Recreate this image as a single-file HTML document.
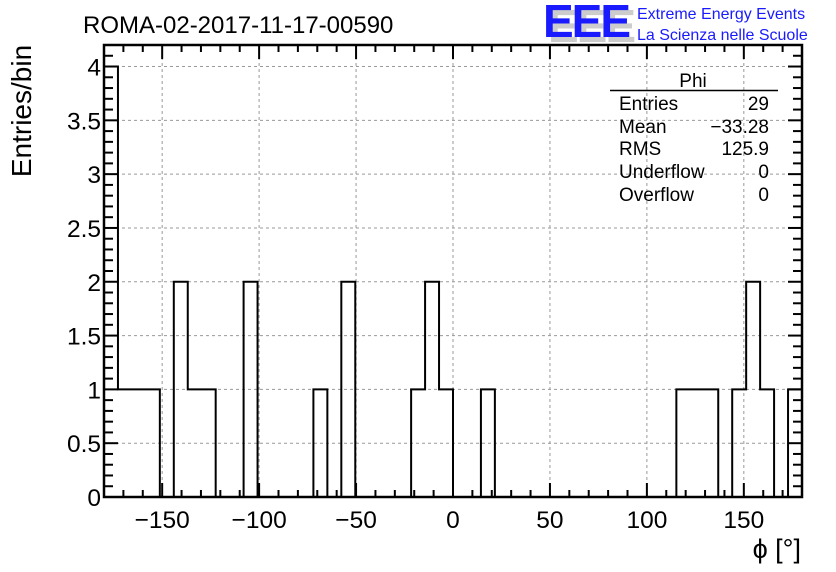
<!DOCTYPE html>
<html><head><meta charset="utf-8"><style>
body{margin:0;background:#fff;}
svg{display:block;font-family:"Liberation Sans",Arial,sans-serif;}
</style></head><body>
<svg id="c" width="836" height="572" viewBox="0 0 836 572">
<rect width="836" height="572" fill="#fff"/>
<g id="grid"></g>
<g id="hist"></g>
<g id="axes"></g>
<text x="83" y="33" font-size="24">ROMA-02-2017-11-17-00590</text>
<g>
<text x="548" y="42" font-size="46" font-weight="bold" fill="#ccc" letter-spacing="-2">EEE</text>
<text x="543" y="37" font-size="46" font-weight="bold" fill="#1a1aff" letter-spacing="-2">EEE</text>
<text x="637" y="19" font-size="16" fill="#1a1aff">Extreme Energy Events</text>
<text x="637" y="40" font-size="16" fill="#1a1aff">La Scienza nelle Scuole</text>
</g>
<g font-size="19">
<text x="693" y="87" text-anchor="middle">Phi</text>
<line x1="610" y1="90.5" x2="778" y2="90.5" stroke="#000" stroke-width="1.5"/>
<text x="619" y="110">Entries</text><text x="769" y="110" text-anchor="end">29</text>
<text x="619" y="133">Mean</text><text x="769" y="133" text-anchor="end">−33.28</text>
<text x="619" y="155">RMS</text><text x="769" y="155" text-anchor="end">125.9</text>
<text x="619" y="178">Underflow</text><text x="769" y="178" text-anchor="end">0</text>
<text x="619" y="201">Overflow</text><text x="769" y="201" text-anchor="end">0</text>
</g>
<text transform="translate(31,111) rotate(-90)" text-anchor="middle" font-size="28">Entries/bin</text>
<text x="801" y="558" text-anchor="end" font-size="27">ϕ [°]</text>
</svg>
<script>
const binLow = -180, binWidth = 7.2;
const counts = [4,1,1,1,0,2,1,1,0,0,2,0,0,0,0,1,0,2,0,0,0,0,1,2,1,0,0,1,0,0,0,0,0,0,0,0,0,0,0,0,0,1,1,1,0,1,2,1,0,1];
const xTicks = [-150,-100,-50,0,50,100,150];
const yTicks = [0,0.5,1,1.5,2,2.5,3,3.5,4];
const yTickLabels = ["0","0.5","1","1.5","2","2.5","3","3.5","4"];
const X0=104, X1=802, Y0=497, Y1=45, XMIN=-180, XMAX=180, YMAX=4.2;
const sx = v => X0 + (v-XMIN)/(XMAX-XMIN)*(X1-X0);
const sy = v => Y0 - v/YMAX*(Y0-Y1);
const NS="http://www.w3.org/2000/svg";
function mk(tag, attrs, parent){const e=document.createElementNS(NS,tag);for(const k in attrs)e.setAttribute(k,attrs[k]);parent.appendChild(e);return e;}
const grid=document.getElementById('grid'), hist=document.getElementById('hist'), axes=document.getElementById('axes');
xTicks.forEach(v=>{const l=mk('line',{x1:sx(v),x2:sx(v),y1:Y1,y2:Y0,stroke:'#999','stroke-dasharray':'3,3','stroke-width':1},grid);

});
yTicks.forEach(v=>{const l=mk('line',{x1:X0,x2:X1,y1:sy(v),y2:sy(v),stroke:'#999','stroke-dasharray':'3,3','stroke-width':1},grid);

});
let d='M'+sx(binLow)+','+sy(0);
counts.forEach((c,i)=>{const a=binLow+i*binWidth,b=a+binWidth;d+=' L'+sx(a)+','+sy(c)+' L'+sx(b)+','+sy(c);});
d+=' L'+sx(binLow+counts.length*binWidth)+','+sy(0);
const p=mk('path',{d:d,fill:'none',stroke:'#000','stroke-width':2},hist);


const fr=mk('rect',{x:X0,y:Y1,width:X1-X0,height:Y0-Y1,fill:'none',stroke:'#000','stroke-width':2.5},axes);


for(let v=XMIN+10;v<XMAX;v+=10){const maj=(v%50===0);const L=maj?14:7;
mk('line',{x1:sx(v),x2:sx(v),y1:Y0,y2:Y0-L,stroke:'#000','stroke-width':2},axes);
mk('line',{x1:sx(v),x2:sx(v),y1:Y1,y2:Y1+L,stroke:'#000','stroke-width':2},axes);}
for(let k=1;k<42;k++){const v=k/10;const maj=(k%5===0);const L=maj?14:9;
mk('line',{x1:X0,x2:X0+L,y1:sy(v),y2:sy(v),stroke:'#000','stroke-width':2},axes);
mk('line',{x1:X1,x2:X1-L,y1:sy(v),y2:sy(v),stroke:'#000','stroke-width':2},axes);}
xTicks.forEach(v=>{const t=mk('text',{x:sx(v),y:528,'text-anchor':'middle','font-size':24.5},axes);t.textContent=v<0?'−'+(-v):String(v);

});
yTicks.forEach((v,i)=>{const t=mk('text',{x:101,y:sy(v)+9,'text-anchor':'end','font-size':24.5},axes);t.textContent=yTickLabels[i];

});
</script>
</body></html>
